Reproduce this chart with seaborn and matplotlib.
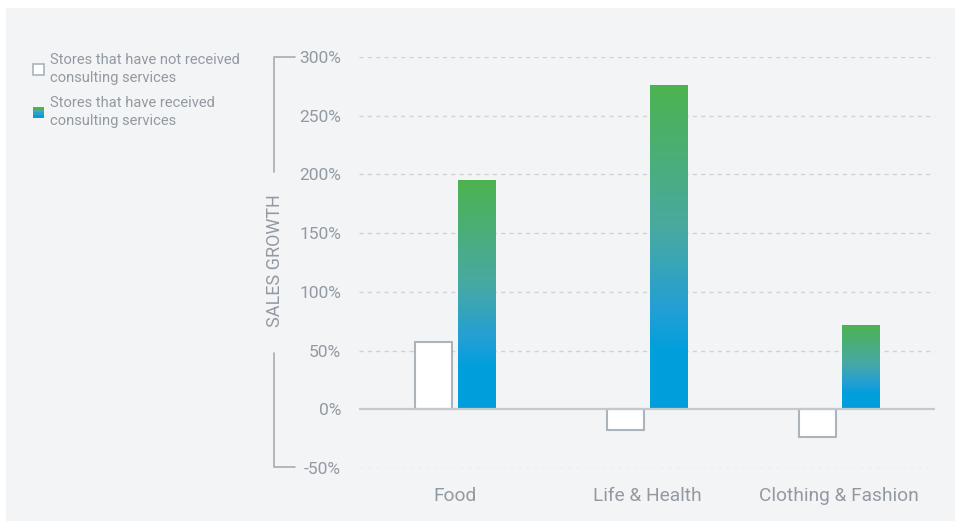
import numpy as np
import pandas as pd
import matplotlib
matplotlib.use("Agg")
import matplotlib.pyplot as plt
import seaborn as sns
from matplotlib.patches import Rectangle
from matplotlib.colors import LinearSegmentedColormap
from matplotlib.legend_handler import HandlerBase
from matplotlib.lines import Line2D

categories = ["Food", "Life & Health", "Clothing & Fashion"]
groups = ["Stores that have not received\nconsulting services",
          "Stores that have received\nconsulting services"]
not_received = [57, -18, -24]
received = [195.5, 276, 72]
yticks = [-50, 0, 50, 100, 150, 200, 250, 300]
ytick_labels = ["-50%", "0%", "50%", "100%", "150%", "200%", "250%", "300%"]

df = pd.DataFrame({
    "category": categories * 2,
    "group": [groups[0]] * 3 + [groups[1]] * 3,
    "value": not_received + received,
})

sns.set_theme(style="white")
plt.rcParams["font.family"] = ["Roboto", "DejaVu Sans"]

BG = "#f3f4f6"
TXT = "#929aa1"
EDGE = "#aab4ba"

fig = plt.figure(figsize=(9.58, 5.21), dpi=100)
fig.patch.set_facecolor("white")
fig.patches.append(Rectangle((6 / 958, 0), 949 / 958, 1 - 8 / 521,
                             transform=fig.transFigure, facecolor=BG,
                             edgecolor="none", zorder=-10))

ax = fig.add_axes([359 / 958, 1 - 468 / 521, 576 / 958, (468 - 57) / 521])
ax.set_facecolor("none")

sns.barplot(data=df, x="category", y="value", hue="group", order=categories,
            hue_order=groups, palette=["white", "#009fdc"], width=0.45, gap=0.14,
            ax=ax, legend=False, zorder=3)

cmap = LinearSegmentedColormap.from_list(
    "gb", [(0, "#4db34f"), (0.45, "#48a9a2"), (0.7, "#229fd6"), (0.82, "#009fdc"), (1, "#009fdc")])
grad = np.linspace(0, 1, 256).reshape(-1, 1)

patches = ax.patches
n = len(categories)
for p in patches[:n]:
    p.set_facecolor("white")
    p.set_edgecolor(EDGE)
    p.set_linewidth(1.5)
for p in patches[n:2 * n]:
    x0, y0 = p.get_x(), p.get_y()
    w, h = p.get_width(), p.get_height()
    p.set_facecolor("none")
    p.set_edgecolor("none")
    im = ax.imshow(grad, cmap=cmap, aspect="auto", origin="upper",
                   zorder=3, interpolation="bilinear")
    im.set_extent([x0, x0 + w, y0, y0 + h])
    im.set_clip_path(p)

ax.set_xlim(-0.5, 2.5)
ax.set_ylim(-50, 300)
ax.set_yticks(yticks)
ax.set_yticklabels(ytick_labels)
for yv in yticks:
    if yv == 0:
        continue
    ax.axhline(yv, color="#cfd3d6", lw=1, ls=(0, (3, 3)), zorder=1)
ax.axhline(0, color="#c3c9cd", lw=1.6, zorder=4)

for s in ax.spines.values():
    s.set_visible(False)
ax.tick_params(axis="y", length=0, pad=13, labelsize=12.5, labelcolor=TXT)
ax.tick_params(axis="x", length=0, pad=14, labelsize=13.8, labelcolor=TXT)
ax.set_xlabel("")
ax.set_ylabel("")

# y-axis label with bracket
fig.text(275 / 958, 1 - 261 / 521, "SALES GROWTH", rotation=90, ha="center",
         va="center", fontsize=13, color=TXT)
lc = "#a4adb3"
fig.add_artist(Line2D([295 / 958, 274 / 958, 274 / 958],
                      [1 - 57 / 521, 1 - 57 / 521, 1 - 172 / 521],
                      transform=fig.transFigure, color=lc, lw=1.2))
fig.add_artist(Line2D([274 / 958, 274 / 958, 295 / 958],
                      [1 - 353 / 521, 1 - 467 / 521, 1 - 467 / 521],
                      transform=fig.transFigure, color=lc, lw=1.2))


class GradHandler(HandlerBase):
    def create_artists(self, legend, orig_handle, xdescent, ydescent, width,
                       height, fontsize, trans):
        s = min(width, height)
        x = -xdescent
        y = -ydescent + (height - s) / 2
        cols = ["#009fdc", "#2aa0cc", "#48a9a2", "#4db34f"]
        arts = []
        for i, c in enumerate(cols):
            arts.append(Rectangle((x, y + i * s / 4), s, s / 4, facecolor=c,
                                  edgecolor="none", transform=trans))
        return arts


class SquareHandler(HandlerBase):
    def create_artists(self, legend, orig_handle, xdescent, ydescent, width,
                       height, fontsize, trans):
        s = min(width, height)
        x = -xdescent
        y = -ydescent + (height - s) / 2
        return [Rectangle((x, y), s, s, facecolor="white", edgecolor=EDGE,
                          lw=1.2, transform=trans)]


h1 = Rectangle((0, 0), 1, 1)
h2 = Rectangle((0, 0), 1, 1, facecolor="green")
leg = fig.legend([h1, h2], groups, loc="upper left",
                 bbox_to_anchor=(33 / 958, 1 - 53 / 521),
                 handler_map={h1: SquareHandler(), h2: GradHandler()},
                 frameon=False, fontsize=10.6, labelcolor=TXT,
                 handlelength=0.8, handleheight=0.8, handletextpad=0.35,
                 labelspacing=0.8, borderpad=0, borderaxespad=0)
for t in leg.get_texts():
    t.set_linespacing(1.32)

fig.savefig("out.png", dpi=100)
